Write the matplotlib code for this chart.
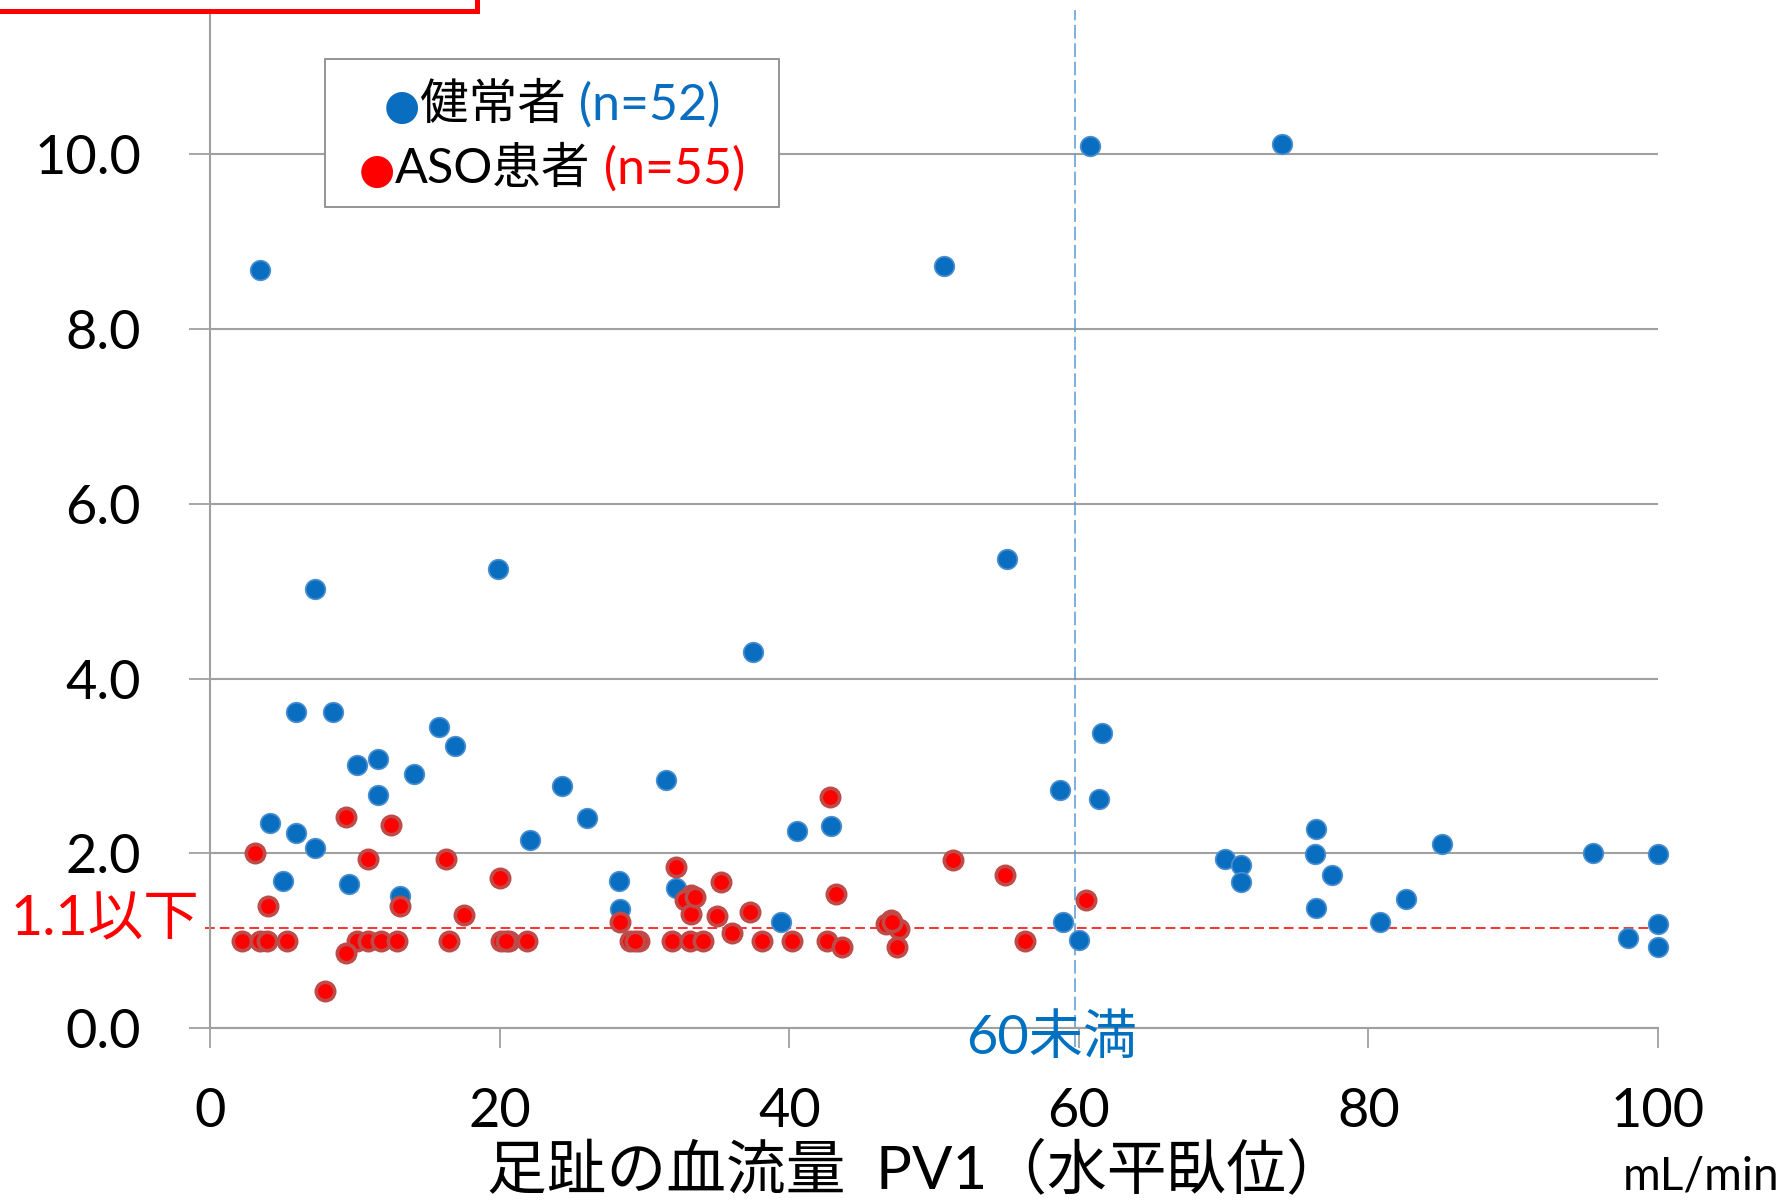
import matplotlib
matplotlib.use('Agg')
import matplotlib.pyplot as plt
from matplotlib.patches import Rectangle
from matplotlib.offsetbox import TextArea, HPacker, AnnotationBbox

plt.rcParams['font.family'] = ['Lato', 'Noto Sans CJK JP', 'DejaVu Sans']

# healthy subjects (n=52): toe blood flow PV1 vs index
healthy_x = [3.4, 7.2, 5.9, 8.5, 4.1, 5.9, 7.2, 5.0, 9.6, 10.1, 11.6, 11.6, 14.1, 15.8, 16.9,
             13.1, 19.9, 22.1, 24.3, 26.0, 31.5, 28.2, 28.3, 32.2, 37.5, 39.4, 40.5, 42.9,
             50.7, 55.0, 58.7, 58.9, 60.0, 60.8, 61.6, 61.4, 74.0, 70.1, 71.2, 71.2, 76.4,
             76.3, 77.5, 76.4, 80.8, 82.6, 85.1, 95.5, 100.0, 100.0, 97.9, 100.0]
healthy_y = [8.67, 5.02, 3.62, 3.62, 2.35, 2.23, 2.06, 1.69, 1.65, 3.01, 3.08, 2.67, 2.91, 3.45, 3.23,
             1.51, 5.25, 2.15, 2.77, 2.40, 2.84, 1.68, 1.36, 1.60, 4.30, 1.21, 2.26, 2.31,
             8.72, 5.37, 2.72, 1.22, 1.01, 10.09, 3.38, 2.62, 10.11, 1.94, 1.87, 1.67, 2.28,
             1.99, 1.75, 1.38, 1.21, 1.48, 2.11, 2.01, 1.99, 1.19, 1.03, 0.93]

# ASO patients (n=55)
aso_x = [3.1, 9.4, 12.5, 10.9, 16.3, 20.0, 4.0, 13.1, 17.5, 28.3,
         2.2, 3.4, 3.9, 5.3, 10.1, 10.9, 11.8, 12.9, 16.5, 20.1, 20.6, 21.9, 29.0, 29.6,
         31.9, 33.1, 34.0, 38.1, 40.2, 42.6, 56.3,
         9.4, 7.9,
         42.8, 32.2, 35.3, 43.2, 51.3, 54.9, 33.2, 32.8, 33.2, 35.0, 37.3, 36.0, 47.0, 46.7,
         47.6, 47.4, 43.6, 60.5,
         20.4, 33.5, 29.3, 47.1]
aso_y = [2.01, 2.42, 2.33, 1.94, 1.94, 1.72, 1.40, 1.40, 1.30, 1.21,
         1.0, 1.0, 1.0, 1.0, 1.0, 1.0, 1.0, 1.0, 1.0, 1.0, 1.0, 1.0, 1.0, 1.0,
         1.0, 1.0, 1.0, 1.0, 1.0, 1.0, 1.0,
         0.86, 0.43,
         2.65, 1.84, 1.67, 1.54, 1.92, 1.75, 1.52, 1.47, 1.31, 1.29, 1.33, 1.09, 1.24, 1.19,
         1.14, 0.93, 0.93, 1.47,
         1.0, 1.5, 1.0, 1.22]

x_ticks = [0, 20, 40, 60, 80, 100]
y_ticks = [0, 2, 4, 6, 8, 10]
y_ticklabels = ['0.0', '2.0', '4.0', '6.0', '8.0', '10.0']

W, H = 1785, 1200
BLUE = '#0A6EC0'
RED = '#FF0000'
GRID = '#A0A0A0'


def fx(px):
    return px / W


def fy(py):
    return 1 - py / H


fig = plt.figure(figsize=(W / 100, H / 100), dpi=100)
ax = fig.add_axes([fx(210.4), fy(1028.3), (1657.9 - 210.4) / W, 1028.3 / H])
ax.set_xlim(0, 100)
ax.set_ylim(0, 11.76)

ax.set_xticks(x_ticks)
ax.set_xticklabels([str(t) for t in x_ticks])
ax.set_yticks(y_ticks)
ax.set_yticklabels(y_ticklabels)
ax.tick_params(axis='x', length=14.4, width=1.3, color=GRID, pad=28, labelsize=39)
ax.tick_params(axis='y', length=15, width=1.3, color=GRID, pad=35, labelsize=39)
ax.grid(axis='y', color=GRID, lw=1.5)
ax.set_axisbelow(True)
for s in ['top', 'right']:
    ax.spines[s].set_visible(False)
for s in ['left', 'bottom']:
    ax.spines[s].set_color(GRID)
    ax.spines[s].set_linewidth(1.5)

# threshold lines
ax.plot([-0.4, 99.5], [1.15, 1.15], color='#FF3030', lw=1.4, ls=(0, (5, 2.6)), zorder=2, clip_on=False)
ax.plot([59.7, 59.7], [-0.21, 11.64], color='#5B9BD5', lw=1.1, ls=(0, (9, 3)), zorder=2, clip_on=False)

ax.scatter(healthy_x, healthy_y, s=200, facecolor=BLUE, edgecolor='#4A8FD0', linewidth=1.2,
           zorder=3, clip_on=False)
ax.scatter(aso_x, aso_y, s=175, facecolor=RED, edgecolor='#BE4B48', linewidth=2.6,
           zorder=4, clip_on=False)

# annotations
fig.text(fx(199), fy(920), '1.1以下', color=RED, fontsize=40, ha='right', va='center')
fig.text(fx(1052), fy(1038), '60未満', color='#0070C0', fontsize=39, ha='center', va='center')
fig.text(fx(916), fy(1170), '足趾の血流量  PV1（水平臥位）', fontsize=43, ha='center', va='center')
fig.text(fx(1779), fy(1176), 'mL/min', fontsize=33, ha='right', va='center')

# legend box
fig.add_artist(Rectangle((fx(325), fy(207)), 454 / W, 148 / H, transform=fig.transFigure,
                         facecolor='white', edgecolor='#8C8C8C', lw=1.3, zorder=5))


def legend_row(color, name, count, ypix):
    row = HPacker(children=[
        TextArea('●', textprops=dict(color=color, fontsize=30, family='DejaVu Sans')),
        TextArea(name, textprops=dict(color='black', fontsize=35)),
        TextArea(' ' + count, textprops=dict(color=color, fontsize=36)),
    ], align='baseline', pad=0, sep=0)
    ab = AnnotationBbox(row, (fx(552), fy(ypix)), xycoords='figure fraction',
                        box_alignment=(0.5, 0.5), frameon=False, zorder=6)
    fig.add_artist(ab)


legend_row(BLUE, '健常者', '(n=52)', 105)
legend_row(RED, 'ASO患者', '(n=55)', 169)

# red box cut off at the top-left corner
fig.add_artist(Rectangle((fx(-10), fy(11)), 487 / W, 30 / H, transform=fig.transFigure,
                         facecolor='white', edgecolor=RED, lw=3.6, zorder=7, clip_on=False))

fig.savefig('out.png', dpi=100)
